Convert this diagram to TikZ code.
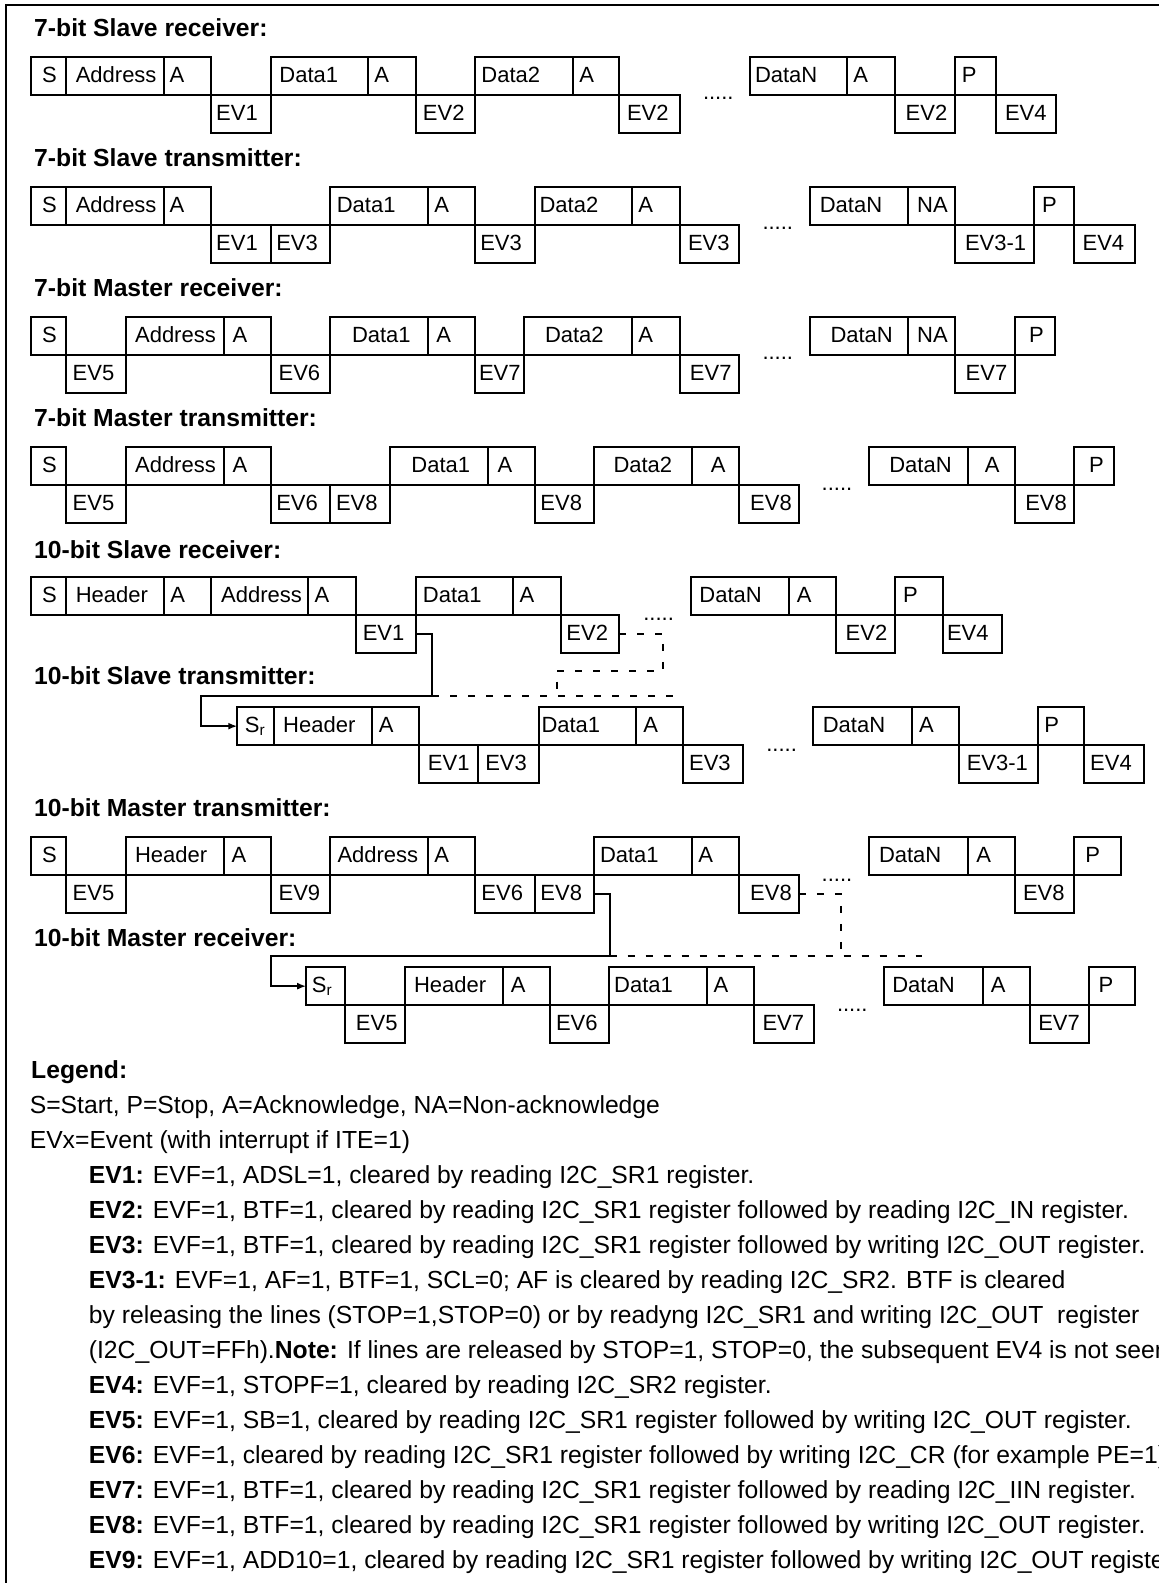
\documentclass[tikz,border=0pt]{standalone}
\usepackage{fontspec}
\setmainfont{Liberation Sans}
\usetikzlibrary{arrows.meta}
\tikzset{
  cellbox/.style={draw, line width=2pt, inner sep=0pt, outer sep=0pt, anchor=north west, minimum height=37.7pt},
  ctext/.style={anchor=base west, inner sep=0pt, outer sep=0pt, font=\fontsize{22}{26}\selectfont},
  ttl/.style={anchor=base west, inner sep=0pt, font=\bfseries\fontsize{24.7}{29}\selectfont},
  lg/.style={anchor=base west, inner sep=0pt, font=\fontsize{24.7}{29}\selectfont},
  conn/.style={line width=2pt, -{Latex[length=9pt,width=7pt]}},
  dsh/.style={line width=2pt, dash pattern=on 7pt off 11pt}
}
\newcommand\cell[6]{%
  \node[cellbox, minimum width={(#3-#2)*1pt}] (#1) at (#2,#4) {};
  \node[ctext] (#1t) at (#5,#4+25) {#6};}
\begin{document}
\begin{tikzpicture}[x=1pt,y=-1pt]
\path[use as bounding box] (0,0) rectangle (1159,1583);
\clip (0,0) rectangle (1159,1583);
\fill[white] (0,0) rectangle (1159,1583);
\draw[line width=2pt] (5.7,5) rectangle (1300,1700);

% titles
\node[ttl] (t1) at (34,36) {7-bit Slave receiver:};
\node[ttl] (t2) at (34,166) {7-bit Slave transmitter:};
\node[ttl] (t3) at (34,296) {7-bit Master receiver:};
\node[ttl] (t4) at (34,426) {7-bit Master transmitter:};
\node[ttl] (t5) at (34,558) {10-bit Slave receiver:};
\node[ttl] (t6) at (34,684) {10-bit Slave transmitter:};
\node[ttl] (t7) at (34,816) {10-bit Master transmitter:};
\node[ttl] (t8) at (34,946) {10-bit Master receiver:};

% row 1
\cell{a1}{31.4}{65.8}{57.3}{42.1}{S}
\cell{a2}{65.8}{163.8}{57.3}{75.8}{Address}
\cell{a3}{163.8}{210.5}{57.3}{169.5}{A}
\cell{a4}{210.5}{271}{95}{216.2}{EV1}
\cell{a5}{271}{368.2}{57.3}{279.4}{Data1}
\cell{a6}{368.2}{416.4}{57.3}{374.3}{A}
\cell{a7}{416.4}{474.6}{95}{422.9}{EV2}
\cell{a8}{474.6}{573.4}{57.3}{481.4}{Data2}
\cell{a9}{573.4}{619.2}{57.3}{579.4}{A}
\cell{a10}{619.2}{679.6}{95}{627}{EV2}
\node[ctext] (adots) at (703,99.5) {.....};
\cell{a11}{749.9}{847.3}{57.3}{755}{DataN}
\cell{a12}{847.3}{895.4}{57.3}{853.4}{A}
\cell{a13}{895.4}{955.4}{95}{905.7}{EV2}
\cell{a14}{955.4}{995.5}{57.3}{961.9}{P}
\cell{a15}{995.5}{1055.5}{95}{1005}{EV4}

% row 2
\cell{b1}{31.4}{65.8}{187.3}{42.1}{S}
\cell{b2}{65.8}{163.8}{187.3}{75.8}{Address}
\cell{b3}{163.8}{210.5}{187.3}{169.5}{A}
\cell{b4}{210.5}{271}{225}{216.2}{EV1}
\cell{b5}{271}{329.9}{225}{276.3}{EV3}
\cell{b6}{329.9}{427.9}{187.3}{336.8}{Data1}
\cell{b7}{427.9}{474.6}{187.3}{434.4}{A}
\cell{b8}{474.6}{535}{225}{480.3}{EV3}
\cell{b9}{535}{631.8}{187.3}{539.6}{Data2}
\cell{b10}{631.8}{680.3}{187.3}{638.3}{A}
\cell{b11}{680.3}{738.8}{225}{688}{EV3}
\node[ctext] (bdots) at (762.5,229.5) {.....};
\cell{b12}{810.2}{907.6}{187.3}{819.8}{DataN}
\cell{b13}{907.6}{955.4}{187.3}{917.2}{NA}
\cell{b14}{955.4}{1033.7}{225}{965}{EV3-1}
\cell{b15}{1033.7}{1073.8}{187.3}{1042.1}{P}
\cell{b16}{1073.8}{1134.9}{225}{1082.6}{EV4}

% row 3
\cell{c1}{31.4}{65.8}{317.3}{42.1}{S}
\cell{c2}{65.8}{126.3}{355}{72.7}{EV5}
\cell{c3}{126.3}{223.9}{317.3}{135.1}{Address}
\cell{c4}{223.9}{271}{317.3}{232.7}{A}
\cell{c5}{271}{329.9}{355}{278.6}{EV6}
\cell{c6}{329.9}{427.9}{317.3}{352}{Data1}
\cell{c7}{427.9}{474.6}{317.3}{436.3}{A}
\cell{c8}{474.6}{523.5}{355}{479}{EV7}
\cell{c9}{523.5}{631.8}{317.3}{545}{Data2}
\cell{c10}{631.8}{680.3}{317.3}{638.3}{A}
\cell{c11}{680.3}{738.8}{355}{689.9}{EV7}
\node[ctext] (cdots) at (762.5,359.5) {.....};
\cell{c12}{810.2}{907.6}{317.3}{830.5}{DataN}
\cell{c13}{907.6}{955.4}{317.3}{917.2}{NA}
\cell{c14}{955.4}{1014.6}{355}{965.7}{EV7}
\cell{c15}{1014.6}{1054.7}{317.3}{1029.1}{P}

% row 4
\cell{d1}{31.4}{65.8}{447.3}{42.1}{S}
\cell{d2}{65.8}{126.3}{485}{72.7}{EV5}
\cell{d3}{126.3}{223.9}{447.3}{135.1}{Address}
\cell{d4}{223.9}{271}{447.3}{232.7}{A}
\cell{d5}{271}{329.9}{485}{276.3}{EV6}
\cell{d6}{329.9}{389.6}{485}{336}{EV8}
\cell{d7}{389.6}{487.9}{447.3}{411.4}{Data1}
\cell{d8}{487.9}{535}{447.3}{497.5}{A}
\cell{d9}{535}{594}{485}{540.4}{EV8}
\cell{d10}{594}{691.8}{447.3}{613.5}{Data2}
\cell{d11}{691.8}{738.8}{447.3}{710.9}{A}
\cell{d12}{738.8}{798.8}{485}{750.2}{EV8}
\node[ctext] (ddots) at (821.7,490.5) {.....};
\cell{d13}{868.7}{968}{447.3}{889.3}{DataN}
\cell{d14}{968}{1014.6}{447.3}{984.8}{A}
\cell{d15}{1014.6}{1073.8}{485}{1025.3}{EV8}
\cell{d16}{1073.8}{1113.9}{447.3}{1089.1}{P}

% row 5
\cell{e1}{31.4}{65.8}{577.3}{42.1}{S}
\cell{e2}{65.8}{163.8}{577.3}{75.8}{Header}
\cell{e3}{163.8}{210.5}{577.3}{170.3}{A}
\cell{e4}{210.5}{308.1}{577.3}{221.2}{Address}
\cell{e5}{308.1}{355.9}{577.3}{314.6}{A}
\cell{e6}{355.9}{416.4}{615}{362.8}{EV1}
\cell{e7}{416.4}{512.8}{577.3}{422.9}{Data1}
\cell{e8}{512.8}{560.7}{577.3}{519.7}{A}
\cell{e9}{560.7}{619.2}{615}{566.4}{EV2}
\node[ctext] (edots) at (643.3,620.5) {.....};
\cell{e10}{690.6}{789.2}{577.3}{699.4}{DataN}
\cell{e11}{789.2}{835.8}{577.3}{796.8}{A}
\cell{e12}{835.8}{895.4}{615}{845.7}{EV2}
\cell{e13}{895.4}{942.8}{577.3}{903}{P}
\cell{e14}{942.8}{1002.4}{615}{947}{EV4}

% row 6
\cell{f1}{237.3}{273.6}{707.3}{244.9}{S\textsubscript{r}}
\cell{f2}{273.6}{372}{707.3}{283.2}{Header}
\cell{f3}{372}{419.1}{707.3}{378.9}{A}
\cell{f4}{419.1}{478.4}{745}{427.9}{EV1}
\cell{f5}{478.4}{538.8}{745}{485.3}{EV3}
\cell{f6}{538.8}{636.4}{707.3}{541.5}{Data1}
\cell{f7}{636.4}{683}{707.3}{643.3}{A}
\cell{f8}{683}{742.6}{745}{689.1}{EV3}
\node[ctext] (fdots) at (766.3,751) {.....};
\cell{f9}{812.9}{911.5}{707.3}{822.8}{DataN}
\cell{f10}{911.5}{959.2}{707.3}{919.1}{A}
\cell{f11}{959.2}{1037.5}{745}{966.8}{EV3-1}
\cell{f12}{1037.5}{1084.1}{707.3}{1044.4}{P}
\cell{f13}{1084.1}{1143.7}{745}{1090.2}{EV4}

% row 7
\cell{g1}{31.4}{65.8}{837.3}{42.1}{S}
\cell{g2}{65.8}{126.3}{875}{72.7}{EV5}
\cell{g3}{126.3}{223.9}{837.3}{135.1}{Header}
\cell{g4}{223.9}{271}{837.3}{231.5}{A}
\cell{g5}{271}{329.9}{875}{278.6}{EV9}
\cell{g6}{329.9}{427.9}{837.3}{337.5}{Address}
\cell{g7}{427.9}{474.6}{837.3}{434.4}{A}
\cell{g8}{474.6}{535}{875}{481.4}{EV6}
\cell{g9}{535}{594}{875}{540.4}{EV8}
\cell{g10}{594}{691.8}{837.3}{600}{Data1}
\cell{g11}{691.8}{738.8}{837.3}{698.3}{A}
\cell{g12}{738.8}{798.8}{875}{750.2}{EV8}
\node[ctext] (gdots) at (821.7,881) {.....};
\cell{g13}{868.7}{968}{837.3}{879}{DataN}
\cell{g14}{968}{1014.6}{837.3}{976.4}{A}
\cell{g15}{1014.6}{1073.8}{875}{1023}{EV8}
\cell{g16}{1073.8}{1120.8}{837.3}{1085.3}{P}

% row 8
\cell{h1}{306.2}{345.2}{967.3}{311.9}{S\textsubscript{r}}
\cell{h2}{345.2}{404.9}{1005}{355.9}{EV5}
\cell{h3}{404.9}{503.3}{967.3}{414.1}{Header}
\cell{h4}{503.3}{550.3}{967.3}{510.9}{A}
\cell{h5}{550.3}{608.9}{1005}{556}{EV6}
\cell{h6}{608.9}{707.1}{967.3}{614.2}{Data1}
\cell{h7}{707.1}{754.1}{967.3}{713.6}{A}
\cell{h8}{754.1}{814}{1005}{762.5}{EV7}
\node[ctext] (hdots) at (837,1011) {.....};
\cell{h9}{884}{983.3}{967.3}{892.3}{DataN}
\cell{h10}{983.3}{1029.9}{967.3}{990.9}{A}
\cell{h11}{1029.9}{1089.1}{1005}{1038.3}{EV7}
\cell{h12}{1089.1}{1134.9}{967.3}{1098.6}{P}

% connectors 10-bit slave
\coordinate (k1) at (432.4,696);
\coordinate (k2) at (200.9,696);
\coordinate (q1) at (663.1,670.7);
\coordinate (q2) at (556.8,670.7);
\coordinate (q3) at (556.8,696);
\coordinate (q4) at (682.2,696);
\draw[conn] (e6.east) -| (k1) -- (k2) |- (f1.west);
\draw[dsh] (e9.east) -| (q1) -- (q2) -- (q3);
\draw[dsh] (k1) -- (q4);

% connectors 10-bit master
\coordinate (m1) at (609.7,955.5);
\coordinate (m2) at (271,955.5);
\coordinate (m3) at (840.8,955.5);
\coordinate (m4) at (922.1,955.5);
\draw[conn] (g9.east) -| (m1) -- (m2) |- (h1.west);
\draw[dsh] (g12.east) -| (m3);
\draw[dsh] (m1) -- (m4);

% legend
\node[lg, font=\bfseries\fontsize{24.7}{29}\selectfont] (l0) at (31,1078) {Legend:};
\node[lg] (l1) at (29.6,1113) {S=Start, P=Stop, A=Acknowledge, NA=Non-acknowledge};
\node[lg] (l2) at (29.6,1148) {EVx=Event (with interrupt if ITE=1)};
\node[lg] (l3) at (88.7,1183) {\textbf{EV1:} EVF=1, ADSL=1, cleared by reading I2C\_SR1 register.};
\node[lg] (l4) at (88.7,1218) {\textbf{EV2:} EVF=1, BTF=1, cleared by reading I2C\_SR1 register followed by reading I2C\_IN register.};
\node[lg] (l5) at (88.7,1253) {\textbf{EV3:} EVF=1, BTF=1, cleared by reading I2C\_SR1 register followed by writing I2C\_OUT register.};
\node[lg] (l6) at (88.7,1288) {\textbf{EV3-1:} EVF=1, AF=1, BTF=1, SCL=0; AF is cleared by reading I2C\_SR2. BTF is cleared};
\node[lg] (l7) at (88.7,1323) {by releasing the lines (STOP=1,STOP=0) or by readyng I2C\_SR1 and writing I2C\_OUT~ register};
\node[lg] (l8) at (88.7,1358) {(I2C\_OUT=FFh).\textbf{Note:} If lines are released by STOP=1, STOP=0, the subsequent EV4 is not seen};
\node[lg] (l9) at (88.7,1393) {\textbf{EV4:} EVF=1, STOPF=1, cleared by reading I2C\_SR2 register.};
\node[lg] (l10) at (88.7,1428) {\textbf{EV5:} EVF=1, SB=1, cleared by reading I2C\_SR1 register followed by writing I2C\_OUT register.};
\node[lg] (l11) at (88.7,1463) {\textbf{EV6:} EVF=1, cleared by reading I2C\_SR1 register followed by writing I2C\_CR (for example PE=1)};
\node[lg] (l12) at (88.7,1498) {\textbf{EV7:} EVF=1, BTF=1, cleared by reading I2C\_SR1 register followed by reading I2C\_IIN register.};
\node[lg] (l13) at (88.7,1533) {\textbf{EV8:} EVF=1, BTF=1, cleared by reading I2C\_SR1 register followed by writing I2C\_OUT register.};
\node[lg] (l14) at (88.7,1568) {\textbf{EV9:} EVF=1, ADD10=1, cleared by reading I2C\_SR1 register followed by writing I2C\_OUT register.};
\end{tikzpicture}
\end{document}
